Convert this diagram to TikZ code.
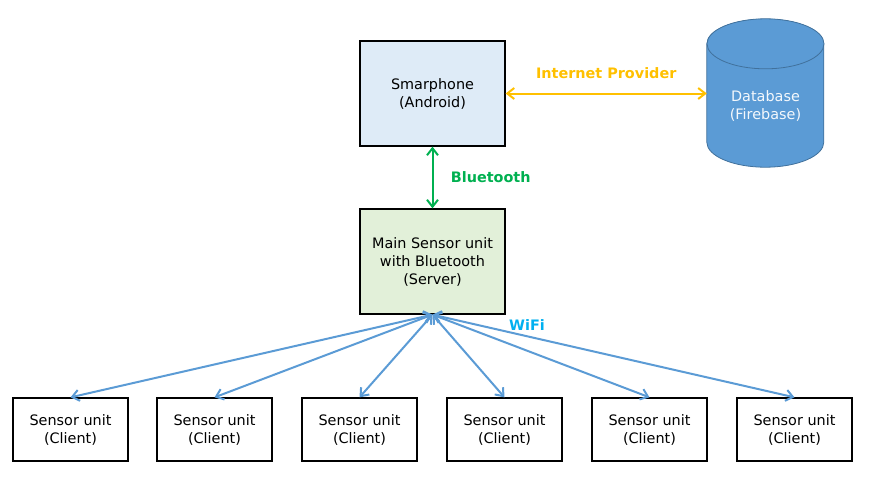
\documentclass[tikz,border=0pt]{standalone}
\usepackage{fontspec}
\setmainfont{DejaVu Sans}
\usetikzlibrary{arrows.meta, positioning}
\definecolor{phoneblue}{HTML}{DEEBF7}
\definecolor{servergreen}{HTML}{E2F0D9}
\definecolor{dbblue}{HTML}{5B9BD5}
\definecolor{dbedge}{HTML}{41719C}
\definecolor{netyellow}{HTML}{FFC000}
\definecolor{btgreen}{HTML}{00B050}
\definecolor{wifiblue}{HTML}{00B0F0}
\tikzset{
  unit/.style={draw, rectangle, align=center, line width=1.3pt, font=\fontsize{14.4}{18}\selectfont},
  tag/.style={font=\fontsize{14.4}{18}\selectfont\bfseries},
  link/.style={<->, >={Straight Barb[length=7pt, width=11pt]}, line width=2pt},
  cyl/.style={fill=dbblue, draw=dbedge, line width=0.8pt},
}

\begin{document}
\begin{tikzpicture}[x=1pt, y=-1pt]
    % Overview: phone, database, server and its clients
    \useasboundingbox (0,0) rectangle (886,479);
    \node[unit, fill=phoneblue, minimum width=145pt, minimum height=105pt] (phone) at (432.5,93.5) {Smarphone\\(Android)};
    \node[unit, fill=servergreen, minimum width=145pt, minimum height=105pt] (server) at (432.5,261.5) {Main Sensor unit\\with Bluetooth\\(Server)};
    \node[minimum width=117pt, minimum height=148pt, inner sep=0pt] (db) at (765.5,93) {};
    \draw[cyl] ([yshift=-25pt]db.north west) -- ([yshift=25pt]db.south west)
        arc[start angle=180, end angle=360, x radius=58.5pt, y radius=25pt]
        -- ++(0,-98) arc[start angle=0, end angle=180, x radius=58.5pt, y radius=25pt] -- cycle;
    \draw[cyl] ([yshift=-25pt]db.north) ellipse[x radius=58.5pt, y radius=25pt];
    \node[align=center, text=white!93!dbblue, font=\fontsize{14.4}{18}\selectfont] (dbtext) at ([yshift=-13pt]db.center) {Database\\(Firebase)};
    \foreach \x [count=\i] in {70.5,214.5,359.5,504.5,649.5,794.5}
        \node[unit, minimum width=115pt, minimum height=63pt] (client\i) at (\x,429.5) {Sensor unit\\(Client)};

    \draw[link, netyellow] (phone.east) -- node[tag, above=10pt] {Internet Provider} (db.west |- phone.east);
    \draw[link, btgreen] (phone) -- node[tag, right=14pt] {Bluetooth} (server);
    \foreach \i in {1,...,6}
        \draw[link, dbblue] (server.south) -- (client\i.north);
    \node[tag, text=wifiblue] (wifi) at (527,325) {WiFi};
\end{tikzpicture}
\end{document}
